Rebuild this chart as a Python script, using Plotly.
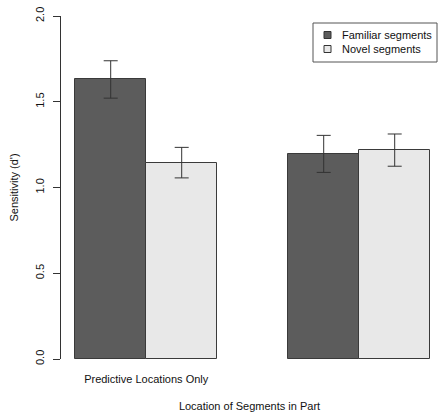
import plotly.graph_objects as go

groups = ["Predictive Locations Only", "Non-Predictive Location Present"]
series = ["Familiar segments", "Novel segments"]
familiar = [1.63, 1.196]
familiar_err = [0.109, 0.108]
novel = [1.145, 1.218]
novel_err = [0.089, 0.094]
colors = ["#5c5c5c", "#e8e8e8"]

group_centers = [2, 5]
fam_x = [c - 0.5 for c in group_centers]
nov_x = [c + 0.5 for c in group_centers]

FONT = "Liberation Sans, Arial, Helvetica, sans-serif"

W, H = 438, 413
ML, MT, MB, MR = 61, 16, 54, 0
PW = W - ML - MR
PH = H - MT - MB


def px(wx):
    return (wx - ML) / PW


def py(wy):
    return (H - MB - wy) / PH


fig = go.Figure()
for name, xs, vals, errs, col in [
    (series[0], fam_x, familiar, familiar_err, colors[0]),
    (series[1], nov_x, novel, novel_err, colors[1]),
]:
    fig.add_trace(go.Bar(
        x=xs, y=vals, width=1, name=name, showlegend=False,
        marker=dict(color=col, line=dict(color="#3a3a3a", width=1)),
        error_y=dict(type="data", array=errs, visible=True,
                     color="#333333", thickness=1, width=7),
    ))

# legend (drawn box, keys and labels)
shapes = [dict(type="rect", xref="paper", yref="paper",
               x0=px(313), x1=px(437), y0=py(62), y1=py(23),
               line=dict(color="#555555", width=1), fillcolor="white")]
annotations = []
for i, (name, col) in enumerate(zip(series, colors)):
    cy = 35 + 14 * i
    shapes.append(dict(type="rect", xref="paper", yref="paper",
                       x0=px(324), x1=px(331), y0=py(cy + 3.5), y1=py(cy - 3.5),
                       line=dict(color="#333333", width=1), fillcolor=col))
    annotations.append(dict(xref="paper", yref="paper", x=px(340), y=py(cy),
                            xanchor="left", yanchor="middle", text=name,
                            showarrow=False, font=dict(size=11)))

fig.update_layout(
    width=W, height=H,
    margin=dict(l=ML, r=MR, t=MT, b=MB),
    paper_bgcolor="white", plot_bgcolor="white",
    font=dict(family=FONT, size=11, color="#111111"),
    barmode="overlay", bargap=0,
    shapes=shapes, annotations=annotations,
    xaxis=dict(range=[0.8, 0.8 + PW / 71.0], tickvals=group_centers,
               ticktext=groups, showline=False, showgrid=False,
               zeroline=False, ticks="", ticklabelstandoff=12,
               tickfont=dict(size=11),
               title=dict(text="Location of Segments in Part",
                          font=dict(size=11), standoff=18)),
    yaxis=dict(range=[0, 2], tickvals=[0, 0.5, 1.0, 1.5, 2.0],
               ticktext=["0.0", "0.5", "1.0", "1.5", "2.0"],
               showline=True, linecolor="#333333", linewidth=1,
               ticks="outside", ticklen=7, tickcolor="#333333",
               tickangle=-90, showgrid=False, zeroline=False,
               ticklabelstandoff=5, ticklabeloverflow="allow",
               tickfont=dict(size=11),
               title=dict(text="Sensitivity (d')", font=dict(size=11),
                          standoff=12)),
)

fig.write_html(
    "out.html",
    config={"displayModeBar": False},
    post_script="document.body.style.margin='0';document.body.style.overflow='hidden';",
)
